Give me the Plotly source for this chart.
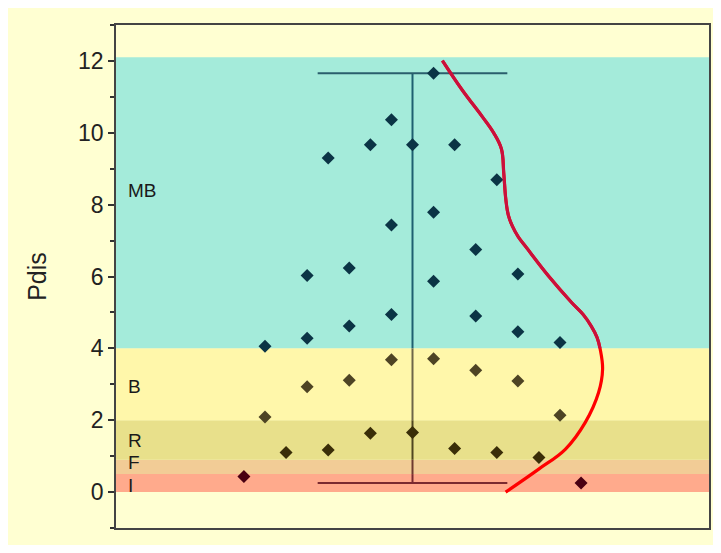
import plotly.graph_objects as go

# ---------------- data ----------------
pts_x = [1, -1, -2, 0, 2, -4, 4, 1, -1, 3, -3, -5, 5, 1,
         -1, 3, -3, 5, -5, -7, 7, -1, 1, 3, -5, -3, 5, -7, 7,
         -2, 0, -6, -4, 2, 4, 6, -8, 8]
pts_y = [11.66, 10.36, 9.67, 9.67, 9.67, 9.30, 8.69, 7.79, 7.43, 6.75, 6.24, 6.03, 6.07, 5.87,
         4.94, 4.90, 4.62, 4.46, 4.28, 4.06, 4.16, 3.68, 3.71, 3.39, 2.93, 3.11, 3.09, 2.09, 2.14,
         1.64, 1.66, 1.10, 1.17, 1.21, 1.10, 0.96, 0.43, 0.25]

curve_y = [0, 0.64, 1.19, 1.94, 2.77, 3.42, 3.97, 4.30, 4.62, 4.94, 5.27, 6.01, 6.84, 7.10, 7.40,
           7.70, 8.14, 8.88, 9.55, 9.99, 10.45, 11.19, 12.01]
curve_x = [4.42, 5.99, 7.25, 8.20, 8.83, 9.02, 8.91, 8.76, 8.48, 8.10, 7.56, 6.46, 5.36, 5.02, 4.74,
           4.55, 4.43, 4.33, 4.22, 3.86, 3.31, 2.36, 1.42]

band_names = ["I", "F", "R", "B", "MB"]
band_lo = [0, 0.5, 0.9, 2, 4]
band_hi = [0.5, 0.9, 2, 4, 12.1]
band_label_y = [0.5, 0.5, 1.43, 2.95, 8.4]

y_ticks = [0, 2, 4, 6, 8, 10, 12]

# ---------------- styles ----------------
band_fill = ["#FFAA8C", "#F2CC96", "#E8E08B", "#FFF7AA", "#A4EBDA"]
band_marker = ["#4A0012", "#4A0A12", "#3A2E08", "#4E4424", "#0B3445"]
band_whisker = ["#7A2A30", "#6E3A30", "#504620", "#6E6648", "#1E6070"]
label_anchor = ["top", "bottom", "middle", "middle", "middle"]
BG = "#FFFFD2"
XR = [-14.07, 14.07]
YR = [-1, 13]
CAP = 4.5
FONT = "Liberation Sans, Arial"


def band_of(v):
    idx = 0
    for i, lo in enumerate(band_lo):
        if v >= lo:
            idx = i
    return idx


fig = go.Figure()

# bands
for i, name in enumerate(band_names):
    fig.add_shape(type="rect", xref="paper", yref="y", x0=0, x1=1,
                  y0=band_lo[i], y1=band_hi[i], fillcolor=band_fill[i],
                  line=dict(width=0), layer="below")
    fig.add_annotation(x=-13.55, y=band_label_y[i], text=name, showarrow=False,
                       xanchor="left", yanchor=label_anchor[i], borderpad=0,
                       font=dict(family=FONT, size=19, color="#1a1a1a"))

# whisker (min / max of data)
ymin, ymax = min(pts_y), max(pts_y)
bounds = [ymin] + [b for b in band_lo if ymin < b < ymax] + [ymax]
for a, b in zip(bounds[:-1], bounds[1:]):
    fig.add_trace(go.Scatter(x=[0, 0], y=[a, b], mode="lines",
                             line=dict(color=band_whisker[band_of((a + b) / 2)], width=2),
                             hoverinfo="skip", showlegend=False))
fig.add_trace(go.Scatter(x=[-CAP, CAP], y=[ymax, ymax], mode="lines",
                         line=dict(color="#2A5E6C", width=2), hoverinfo="skip", showlegend=False))
fig.add_trace(go.Scatter(x=[-CAP, CAP], y=[ymin, ymin], mode="lines",
                         line=dict(color="#7A2A30", width=2), hoverinfo="skip", showlegend=False))

# distribution curve: red everywhere, crimson where it crosses the MB band
fig.add_trace(go.Scatter(x=curve_x, y=curve_y, mode="lines",
                         line=dict(color="#FF0000", width=3.2, shape="spline", smoothing=1.1),
                         hoverinfo="skip", showlegend=False))

# points
fig.add_trace(go.Scatter(x=pts_x, y=pts_y, mode="markers",
                         marker=dict(symbol="diamond", size=10,
                                     color=[band_marker[band_of(v)] for v in pts_y],
                                     line=dict(width=0)),
                         hoverinfo="skip", showlegend=False))

# same curve on an overlay sub-area clipped to the MB band
mb_lo = band_lo[4]
fig.add_trace(go.Scatter(x=curve_x, y=curve_y, mode="lines", xaxis="x2", yaxis="y2",
                         line=dict(color="#C8103E", width=3, shape="spline", smoothing=1.1),
                         hoverinfo="skip", showlegend=False))

fig.update_layout(
    width=705, height=537,
    margin=dict(l=108, r=2, t=17, b=17),
    paper_bgcolor=BG, plot_bgcolor="rgba(0,0,0,0)",
    font=dict(family=FONT, color="#222"),
    xaxis=dict(range=XR, showticklabels=False, ticks="", showgrid=False, zeroline=False,
               showline=True, mirror=True, linecolor="#444", linewidth=1.5),
    yaxis=dict(range=YR, tickvals=y_ticks, ticktext=[str(v) for v in y_ticks],
               ticks="outside", ticklen=6, tickwidth=1.5, tickcolor="#333",
               minor=dict(dtick=1, tick0=0, ticks="outside", ticklen=4, tickwidth=1.5, tickcolor="#333"),
               tickfont=dict(family=FONT, size=23, color="#222"),
               showgrid=False, zeroline=False,
               showline=True, mirror=True, linecolor="#444", linewidth=1.5,
               title=dict(text="Pdis", font=dict(family=FONT, size=25, color="#222"), standoff=24)),
    xaxis2=dict(range=XR, overlaying="x", anchor="y2", visible=False, fixedrange=True),
    yaxis2=dict(range=[mb_lo, YR[1]], domain=[(mb_lo - YR[0]) / (YR[1] - YR[0]), 1],
                anchor="x2", visible=False, fixedrange=True),
)

fig.write_html("out.html")
